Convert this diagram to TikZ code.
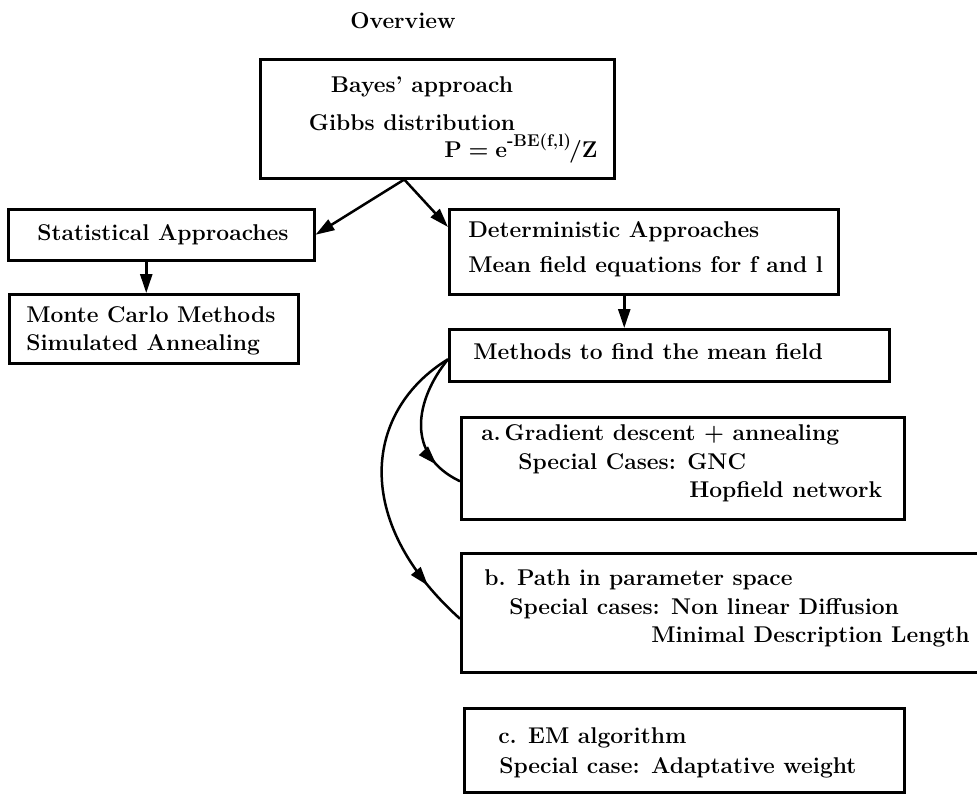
\documentclass[tikz,border=0pt]{standalone}
\usepackage{fontspec}
\usetikzlibrary{arrows.meta,decorations.markings}
\newcommand{\supx}[1]{\raisebox{1.0ex}{\fontsize{17}{19}\selectfont #1}}
\begin{document}
\begin{tikzpicture}[x=1pt,y=-1pt, line width=2.5pt,
  box/.style={draw, rectangle, inner sep=0pt, anchor=north west},
  txt/.style={font=\fontsize{22.8}{27}\selectfont\bfseries\addfontfeatures{FakeBold=2.5}, inner sep=0pt, anchor=base west},
  arr/.style={-{Triangle[length=19pt,width=12pt]}},
  midarr/.style={postaction={decorate}, decoration={markings, mark=at position #1 with {\arrow{Triangle[length=19pt,width=12pt]}}}}]
\clip (0,0) rectangle (977,793);
\useasboundingbox (0,0) rectangle (977,793);
% boxes
\node[box, minimum width=354pt, minimum height=119pt] (bayes) at (259,58) {};
\node[box, minimum width=306pt, minimum height=51pt] (stat) at (7,208) {};
\node[box, minimum width=289pt, minimum height=69pt] (mc) at (8,293) {};
\node[box, minimum width=389pt, minimum height=85pt] (det) at (448,208) {};
\node[box, minimum width=440pt, minimum height=52pt] (meth) at (448,328) {};
\node[box, minimum width=443pt, minimum height=102pt] (boxa) at (460,416) {};
\node[box, minimum width=540pt, minimum height=119pt] (boxb) at (460,552) {};
\node[box, minimum width=440pt, minimum height=84pt] (boxc) at (463,707) {};
% texts
\node[txt, anchor=base] (ov) at (403,28) {Overview};
\node[txt, anchor=base] (by1) at (422,92) {Bayes' approach};
\node[txt, anchor=base] (by2) at (412,130) {Gibbs distribution};
\node[txt] (by3) at (443,157) {P\hspace{0.3em}=\hspace{0.3em}e\supx{-BE(f,l)}\kern-2pt/Z};
\node[txt, anchor=base] (st1) at (163,240) {Statistical Approaches};
\node[txt] (mc1) at (25,322) {Monte Carlo Methods};
\node[txt] (mc2) at (25,350) {Simulated Annealing};
\node[txt] (de1) at (467,237) {Deterministic Approaches};
\node[txt] (de2) at (467,272) {Mean field equations for f and l};
\node[txt] (me1) at (472,359) {Methods to find the mean field};
\node[txt] (a1) at (480,440) {a.\,Gradient descent + annealing};
\node[txt] (a2) at (517,469) {Special Cases: GNC};
\node[txt] (a3) at (688,497) {Hopfield network};
\node[txt] (b1) at (483,585) {b. Path in parameter space};
\node[txt] (b2) at (508,614) {Special cases: Non linear Diffusion};
\node[txt] (b3) at (650,642) {Minimal Description Length};
\node[txt] (c1) at (497,743) {c. EM algorithm};
\node[txt] (c2) at (498,773) {Special case: Adaptative weight};
% connectors
\draw[arr] ([xshift=-33pt]bayes.south) -- (stat.east);
\draw[arr] ([xshift=-33pt]bayes.south) -- ([yshift=-19pt]det.north west);
\draw[arr] ([xshift=-15pt]stat.south) -- ([xshift=-15pt]stat.south |- mc.north);
\draw[arr] ([xshift=-19.5pt]det.south) -- ([xshift=-19.5pt]det.south |- meth.north);
\draw[midarr=0.8] ([yshift=-4pt]meth.west) .. controls (415,400) and (405,455) .. ([yshift=-13pt]boxa.west);
\draw[midarr=0.85] ([yshift=-4pt]meth.west) .. controls (365,410) and (350,520) .. ([yshift=-6pt]boxb.west);
\end{tikzpicture}
\end{document}
